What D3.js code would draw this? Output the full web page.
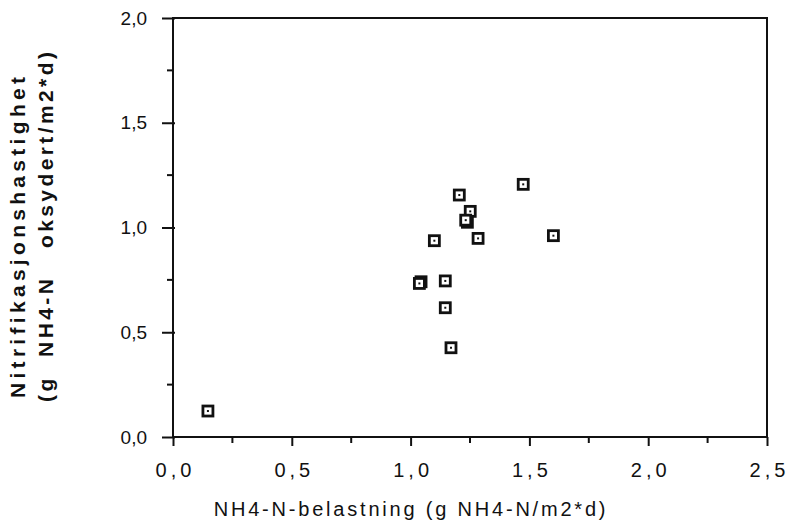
<!DOCTYPE html>
<html><head><meta charset="utf-8">
<script src="https://cdn.jsdelivr.net/npm/d3@7"></script>
<style>
html,body{margin:0;padding:0;background:#fff;}
svg{display:block;}
text{font-family:"Liberation Sans",Arial,Helvetica,sans-serif;fill:#111;}
</style></head>
<body>
<script>
const xValues = [0.147, 1.205, 1.251, 1.239, 1.232, 1.100, 1.284, 1.601, 1.474, 1.044, 1.037, 1.146, 1.146, 1.170];
const yValues = [0.124, 1.155, 1.077, 1.025, 1.035, 0.937, 0.948, 0.961, 1.206, 0.741, 0.733, 0.745, 0.617, 0.426];
const xTicks = [0, 0.5, 1.0, 1.5, 2.0, 2.5];
const yTicks = [0, 0.5, 1.0, 1.5, 2.0];
const xMinor = [0.25, 0.75, 1.25, 1.75, 2.25];
const yMinor = [0.25, 0.75, 1.25, 1.75];
const xTitle = "NH4-N-belastning (g NH4-N/m2*d)";
const yTitle1 = "Nitrifikasjonshastighet";
const yTitle2 = "(g  NH4-N   oksydert/m2*d)";

const W = 791, H = 529;
const m = {left:173, top:18, right:767, bottom:437};
const svg = d3.select("body").append("svg").attr("width", W).attr("height", H);
const x = d3.scaleLinear().domain([0, 2.5]).range([m.left, m.right]);
const y = d3.scaleLinear().domain([0, 2.0]).range([m.bottom, m.top]);
const fmt = d => d3.format(".1f")(d).replace(".", ",");

// frame
svg.append("rect").attr("x", m.left).attr("y", m.top)
  .attr("width", m.right - m.left).attr("height", m.bottom - m.top)
  .attr("fill", "none").attr("stroke", "#111").attr("stroke-width", 2);

// x axis
const xa = svg.append("g").attr("transform", `translate(0,${m.bottom})`)
  .call(d3.axisBottom(x).tickValues(xTicks).tickFormat(fmt).tickSize(9).tickSizeOuter(0));
xa.select(".domain").remove();
xa.selectAll("line").attr("stroke", "#111").attr("stroke-width", 2);
xa.selectAll("text").attr("font-size", 20).attr("y", 40).attr("dy", 0)
  .attr("fill", "#111").each(function() {
    const t = d3.select(this), s = t.text();
    t.text(null);
    t.append("tspan").text(s.split("").join("\u2009"));
  });
svg.append("g").selectAll("line").data(xMinor).join("line")
  .attr("x1", d => x(d)).attr("x2", d => x(d)).attr("y1", m.bottom).attr("y2", m.bottom + 6)
  .attr("stroke", "#111").attr("stroke-width", 2);

// y axis
const ya = svg.append("g").attr("transform", `translate(${m.left},0)`)
  .call(d3.axisLeft(y).tickValues(yTicks).tickFormat(fmt).tickSize(11).tickSizeOuter(0));
ya.select(".domain").remove();
ya.selectAll("line").attr("stroke", "#111").attr("stroke-width", 2).attr("x2", -11).attr("x1", 2);
ya.selectAll("text").attr("font-size", 19).attr("x", -26).attr("fill", "#111");
svg.append("g").selectAll("line").data(yMinor).join("line")
  .attr("y1", d => y(d)).attr("y2", d => y(d)).attr("x1", m.left).attr("x2", m.left - 6)
  .attr("stroke", "#111").attr("stroke-width", 2);

// titles
svg.append("text").attr("x", 411).attr("y", 516).attr("text-anchor", "middle")
  .attr("font-size", 20).attr("letter-spacing", "2.8px").text(xTitle);
svg.append("text").attr("transform", "translate(25,398) rotate(-90)")
  .attr("font-size", 21).attr("font-weight", "bold").attr("letter-spacing", "4.3px").text(yTitle1);
svg.append("text").attr("transform", "translate(53,402) rotate(-90)")
  .attr("font-size", 21).attr("font-weight", "bold").attr("letter-spacing", "3.4px")
  .style("white-space", "pre").text(yTitle2);

// points
const pts = svg.append("g").selectAll("g").data(xValues.map((v, i) => [v, yValues[i]])).join("g")
  .attr("transform", d => `translate(${x(d[0])},${y(d[1])})`);
pts.append("rect").attr("x", -5).attr("y", -5).attr("width", 10).attr("height", 10)
  .attr("fill", "#fff").attr("stroke", "#111").attr("stroke-width", 2.8);
pts.append("rect").attr("x", -1).attr("y", -1).attr("width", 2).attr("height", 2).attr("fill", "#111");
</script>
</body></html>
